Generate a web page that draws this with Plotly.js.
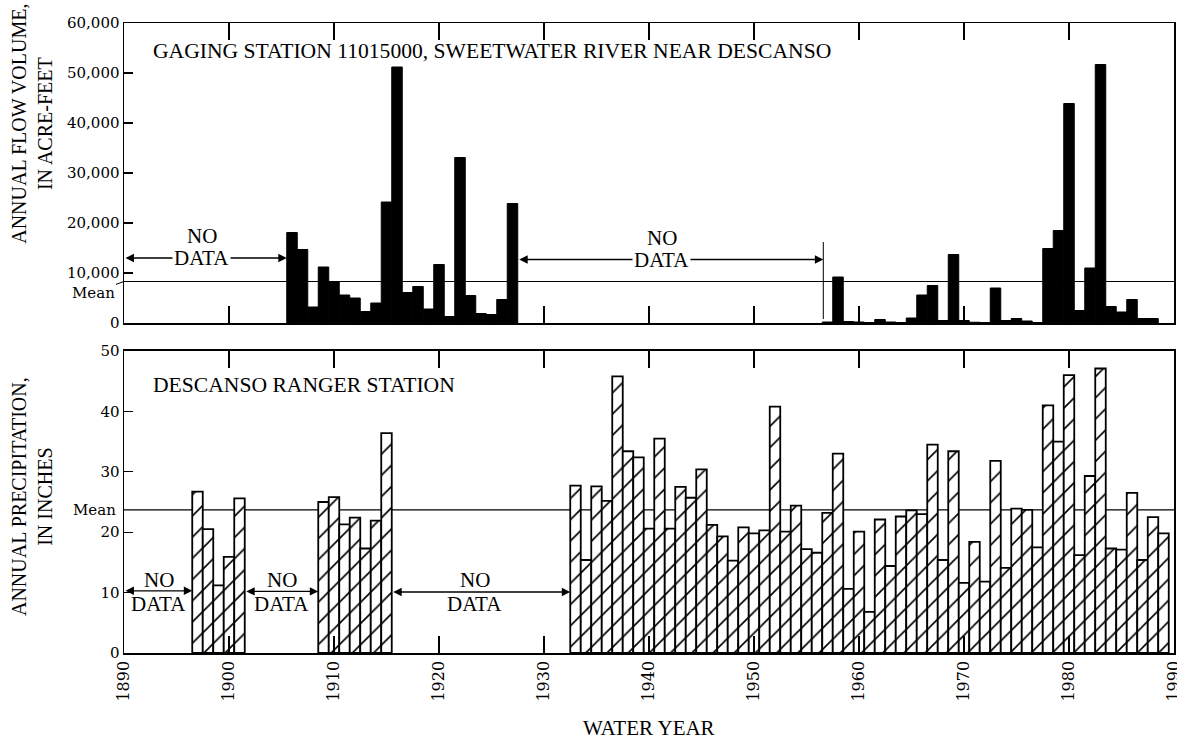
<!DOCTYPE html>
<html><head><meta charset="utf-8">
<script src="https://cdn.plot.ly/plotly-3.0.1.min.js"></script>
<style>html,body{margin:0;padding:0;background:#fff}</style>
</head><body>
<div id="chart" style="width:1177px;height:740px"></div>
<script>
// ---- data ----
const flowYears = [1906,1907,1908,1909,1910,1911,1912,1913,1914,1915,1916,1917,1918,1919,1920,1921,1922,1923,1924,1925,1926,1927,
  1957,1958,1959,1960,1961,1962,1963,1964,1965,1966,1967,1968,1969,1970,1971,1972,1973,1974,1975,1976,1977,1978,1979,1980,1981,1982,1983,1984,1985,1986,1987,1988];
const flowValues = [18100,14700,3200,11200,8300,5600,5000,2300,4000,24200,51200,6100,7300,2800,11700,1300,33100,5500,1900,1700,4700,23900,
  200,9200,300,200,100,700,200,100,1000,5600,7500,500,13700,500,150,100,7000,500,900,400,100,14900,18500,43900,2500,11000,51700,3300,2200,4700,900,900];
const precipYears = [1897,1898,1899,1900,1901,
  1909,1910,1911,1912,1913,1914,1915,
  1933,1934,1935,1936,1937,1938,1939,1940,1941,1942,1943,1944,1945,1946,1947,1948,1949,1950,1951,1952,1953,1954,1955,1956,1957,1958,1959,1960,
  1961,1962,1963,1964,1965,1966,1967,1968,1969,1970,1971,1972,1973,1974,1975,1976,1977,1978,1979,1980,1981,1982,1983,1984,1985,1986,1987,1988,1989];
const precipValues = [26.7,20.5,11.2,15.9,25.6,
  25.0,25.8,21.3,22.4,17.3,21.9,36.4,
  27.7,15.4,27.6,25.2,45.8,33.4,32.4,20.6,35.5,20.6,27.5,25.7,30.4,21.2,19.3,15.3,20.8,19.8,20.3,40.8,20.1,24.4,17.2,16.6,23.2,33.0,10.6,20.1,
  6.8,22.1,14.4,22.6,23.6,23.0,34.5,15.4,33.4,11.6,18.4,11.8,31.8,14.1,23.9,23.7,17.5,41.0,35.0,46.0,16.2,29.3,47.1,17.3,17.1,26.5,15.4,22.5,19.8];
const flowMean = 8300;
const precipMean = 23.7;
const decadeTicks = [1890,1900,1910,1920,1930,1940,1950,1960,1970,1980,1990];
const flowTicks = [0,10000,20000,30000,40000,50000,60000];
const flowRightTicks = [10000,20000,30000,40000,50000];
const precipTicks = [0,10,20,30,40,50];
const precipRightTicks = [10,20,30,40];
const flowTitle = 'GAGING STATION 11015000, SWEETWATER RIVER NEAR DESCANSO';
const precipTitle = 'DESCANSO RANGER STATION';
// no-data spans
const flowNoDataStart = [1890, 1927.5];
const flowNoDataEnd = [1905.5, 1956.6];
const flowNoDataLevel = [13000, 12700];
const flowNoDataLabelX = [1897.4, 1941.2];
const flowNoLevel = [17400, 17100];
const precipNoDataStart = [1890, 1901.5, 1915.5];
const precipNoDataEnd = [1896.5, 1908.5, 1932.5];
const precipNoDataLevel = [10.3, 10.2, 10.1];
const precipNoDataLabelX = [1893.3, 1905.0, 1923.4];
const precipNoLevel = [12.1, 12.1, 12.1];
const precipDataLevel = [8.1, 8.1, 8.1];
const flowRecordStart = 1956.6;

// ---- chart ----
const SERIF = 'Liberation Serif, Times New Roman, serif';
const NUMF = 'DejaVu Serif, serif';
const black = '#000';

const traces = [
  {type:'bar', x:flowYears, y:flowValues, xaxis:'x', yaxis:'y', width:1,
   marker:{color:black, line:{color:black, width:1}}, hoverinfo:'skip', showlegend:false},
  {type:'bar', x:precipYears, y:precipValues, xaxis:'x2', yaxis:'y2', width:1,
   marker:{color:'#fff', line:{color:black, width:1.8},
     pattern:{shape:'/', fgcolor:black, bgcolor:'#fff', size:15, solidity:0.11, fillmode:'replace'}},
   hoverinfo:'skip', showlegend:false}
];

function xAx(extra){
  return Object.assign({range:[1890,1990], tickmode:'array', tickvals:decadeTicks, ticks:'inside', ticklen:17,
    tickwidth:1.3, tickcolor:black, showline:true, linecolor:black, linewidth:1.5, mirror:'ticks',
    showgrid:false, zeroline:false, fixedrange:true}, extra);
}
function yAx(extra){
  return Object.assign({ticks:'inside', ticklen:9, tickwidth:1.3, tickcolor:black, showline:true, linecolor:black,
    linewidth:1.5, mirror:true, showgrid:false, zeroline:false, tickmode:'array',
    tickfont:{family:NUMF, size:15, color:black}, fixedrange:true}, extra);
}
function yRight(extra){
  return Object.assign({side:'right', ticks:'inside', ticklen:18, tickwidth:1.3, tickcolor:black, showline:false,
    showticklabels:false, showgrid:false, zeroline:false, tickmode:'array', fixedrange:true}, extra);
}

const annotations = [];
annotations.push({xref:'x', yref:'y', x:1892.6, y:54500, xanchor:'left', yanchor:'middle', text:flowTitle,
  showarrow:false, font:{family:SERIF, size:21.6, color:black}});
annotations.push({xref:'x2', yref:'y2', x:1892.6, y:44.4, xanchor:'left', yanchor:'middle', text:precipTitle,
  showarrow:false, font:{family:SERIF, size:21.6, color:black}});
const arrowStyle = {text:'', showarrow:true, arrowhead:2, startarrowhead:2, arrowside:'end+start', arrowsize:1.3,
  startarrowsize:1.3, arrowwidth:1.3, arrowcolor:black, standoff:0, startstandoff:0};
flowNoDataStart.forEach((s,i)=>{
  annotations.push(Object.assign({xref:'x', yref:'y', axref:'x', ayref:'y', x:flowNoDataEnd[i], y:flowNoDataLevel[i],
    ax:s, ay:flowNoDataLevel[i]}, arrowStyle));
});
precipNoDataStart.forEach((s,i)=>{
  annotations.push(Object.assign({xref:'x2', yref:'y2', axref:'x2', ayref:'y2', x:precipNoDataEnd[i], y:precipNoDataLevel[i],
    ax:s, ay:precipNoDataLevel[i]}, arrowStyle));
});
const ndFont = {family:SERIF, size:21, color:black};
flowNoDataStart.forEach((s,i)=>{
  annotations.push({xref:'x', yref:'y', x:flowNoDataLabelX[i], y:flowNoDataLevel[i], text:'DATA', showarrow:false,
    bgcolor:'#fff', borderpad:1, font:ndFont});
  annotations.push({xref:'x', yref:'y', x:flowNoDataLabelX[i], y:flowNoLevel[i], text:'NO', showarrow:false, font:ndFont});
});
precipNoDataStart.forEach((s,i)=>{
  annotations.push({xref:'x2', yref:'y2', x:precipNoDataLabelX[i], y:precipDataLevel[i], text:'DATA', showarrow:false, font:ndFont});
  annotations.push({xref:'x2', yref:'y2', x:precipNoDataLabelX[i], y:precipNoLevel[i], text:'NO', showarrow:false, font:ndFont});
});
annotations.push({xref:'x', yref:'y', x:1890, y:flowMean, ax:-31, ay:11, text:'Mean', showarrow:true, arrowhead:0,
  arrowwidth:1, arrowcolor:black, standoff:0, font:{family:NUMF, size:15, color:black}});
annotations.push({xref:'paper', yref:'y2', x:0, y:precipMean, xanchor:'right', xshift:-6, text:'Mean', showarrow:false,
  font:{family:NUMF, size:15, color:black}});
annotations.push({xref:'paper', yref:'paper', x:0, xshift:-92, y:0.84, textangle:-90, xanchor:'center', yanchor:'middle',
  text:'ANNUAL FLOW VOLUME,<br>IN ACRE-FEET', showarrow:false, font:{family:SERIF, size:20, color:black}});
annotations.push({xref:'paper', yref:'paper', x:0, xshift:-92, y:0.2476, textangle:-90, xanchor:'center', yanchor:'middle',
  text:'ANNUAL PRECIPITATION,<br>IN INCHES', showarrow:false, font:{family:SERIF, size:20, color:black}});
annotations.push({xref:'paper', yref:'paper', x:0.5, y:-0.119, xanchor:'center', yanchor:'middle',
  text:'WATER YEAR', showarrow:false, font:{family:SERIF, size:21, color:black}});

const shapes = [
  {type:'line', xref:'x domain', x0:0, x1:1, yref:'y', y0:flowMean, y1:flowMean, line:{color:black, width:1.2}, layer:'below'},
  {type:'line', xref:'x2 domain', x0:0, x1:1, yref:'y2', y0:precipMean, y1:precipMean, line:{color:black, width:1.2}, layer:'below'},
  {type:'line', xref:'x', yref:'y', x0:flowRecordStart, x1:flowRecordStart, y0:800, y1:16200, line:{color:black, width:1}}
];

const layout = {
  width:1177, height:740,
  margin:{l:124, r:3, t:23, b:87, pad:0},
  paper_bgcolor:'#fff', plot_bgcolor:'#fff',
  font:{family:SERIF, color:black},
  showlegend:false,
  xaxis: xAx({domain:[0,1], anchor:'y', showticklabels:false}),
  yaxis: yAx({domain:[0.5238,1], anchor:'x', range:[0,60000], tickvals:flowTicks, tickformat:','}),
  yaxis3: yRight({overlaying:'y', anchor:'x', range:[0,60000], tickvals:flowRightTicks}),
  xaxis2: xAx({domain:[0,1], anchor:'y2', showticklabels:true, tickangle:-90, ticklabeloverflow:'allow',
    tickfont:{family:NUMF, size:16, color:black}}),
  yaxis2: yAx({domain:[0,0.4794], anchor:'x2', range:[0,50], tickvals:precipTicks}),
  yaxis4: yRight({overlaying:'y2', anchor:'x2', range:[0,50], tickvals:precipRightTicks}),
  annotations: annotations,
  shapes: shapes
};

Plotly.newPlot('chart', traces, layout, {staticPlot:true, displayModeBar:false});
</script>
</body></html>
